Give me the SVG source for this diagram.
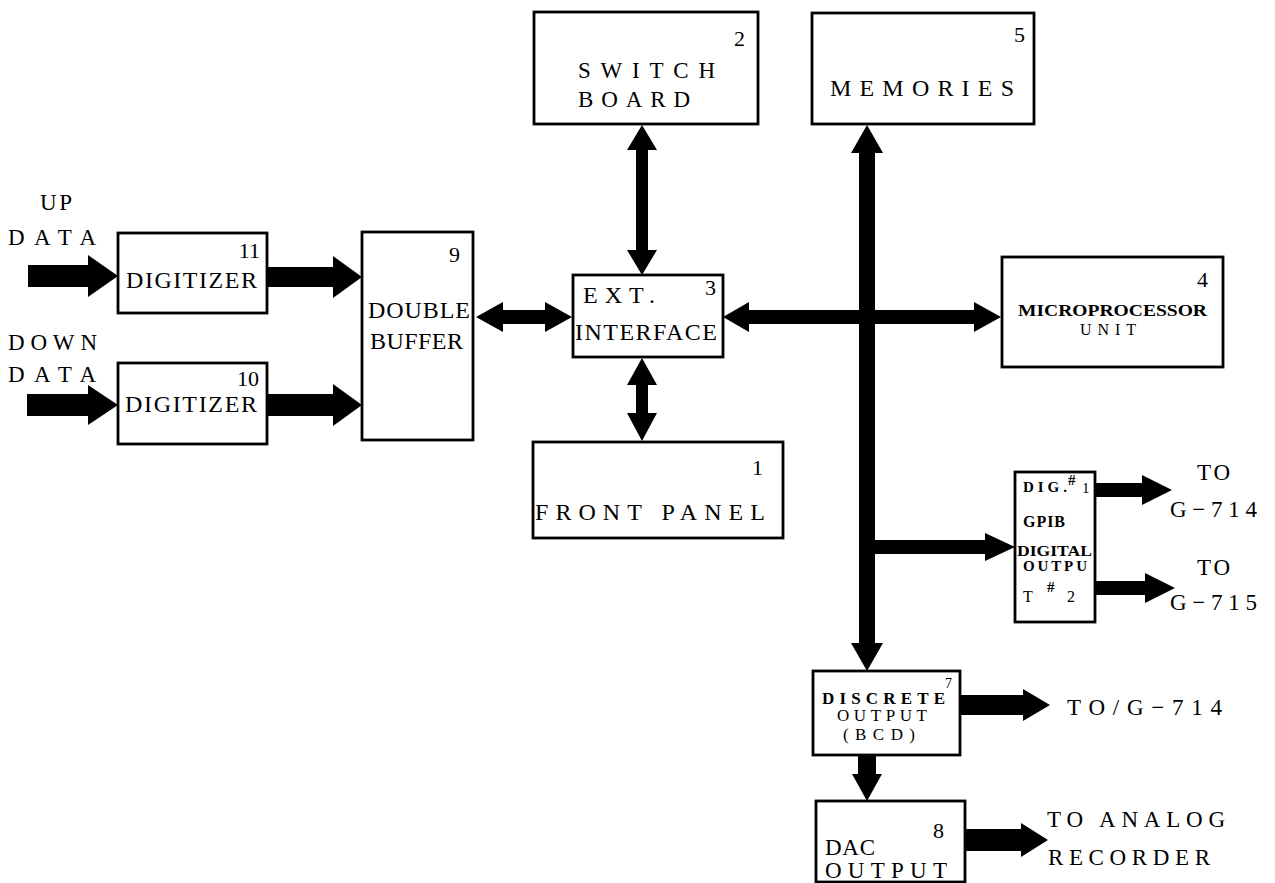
<svg xmlns="http://www.w3.org/2000/svg" width="1275" height="883" viewBox="0 0 1275 883">
<style>
.box{fill:#fff;stroke:#000;stroke-width:2.8}
text{font-family:"Liberation Serif","Times New Roman",serif;fill:#000}
.t{font-size:24px}
.m{font-size:23px}
.s{font-size:17px}
.b{font-weight:bold}
.n{font-size:22px;text-anchor:end}
.ar{fill:#000}
</style>
<rect width="1275" height="883" fill="#fff"/>
<g id="connectors" class="ar">
<polygon points="28,265 88,265 88,255 118,276 88,297 88,287 28,287"/>
<polygon points="27,394 88,394 88,385 118,405 88,425 88,416 27,416"/>
<polygon points="267,267 333,267 333,256 362,277 333,298 333,287 267,287"/>
<polygon points="267,394 333,394 333,384 362,405 333,426 333,416 267,416"/>
<polygon points="476,317 503,302 503,310 545,310 545,302 572,317 545,332 545,324 503,324 503,332"/>
<polygon points="723,317 749,302 749,310 974,310 974,302 1001,317 974,332 974,324 749,324 749,332"/>
<polygon points="642,125 657,150 648,150 648,250 657,250 642,275 627,250 636,250 636,150 627,150"/>
<polygon points="642,358 657,385 648,385 648,413 657,413 642,441 627,413 636,413 636,385 627,385"/>
<polygon points="867,125 883,153 875,153 875,643 883,643 867,671 851,643 859,643 859,153 851,153"/>
<polygon points="875,540 985,540 985,533 1015,547 985,561 985,554 875,554"/>
<polygon points="1095,483 1142,483 1142,475 1172,490 1142,505 1142,497 1095,497"/>
<polygon points="1095,581 1145,581 1145,573 1175,588 1145,603 1145,595 1095,595"/>
<polygon points="960,695 1023,695 1023,689 1050,705 1023,721 1023,715 960,715"/>
<polygon points="858,755 876,755 876,774 882,774 867,801 852,774 858,774"/>
<polygon points="965,829 1021,829 1021,823 1048,840 1021,857 1021,851 965,851"/>
</g>
<g id="labels">
<text class="m" x="40" y="210" textLength="32" lengthAdjust="spacing">UP</text>
<text class="m" x="8" y="245" textLength="88" lengthAdjust="spacing">DATA</text>
<text class="m" x="8" y="350" textLength="89" lengthAdjust="spacing">DOWN</text>
<text class="m" x="8" y="382" textLength="88" lengthAdjust="spacing">DATA</text>
<text class="m" x="1197" y="480" textLength="33" lengthAdjust="spacing">TO</text>
<text class="m" x="1170" y="517" textLength="87" lengthAdjust="spacing">G−714</text>
<text class="m" x="1197" y="575" textLength="33" lengthAdjust="spacing">TO</text>
<text class="m" x="1170" y="610" textLength="87" lengthAdjust="spacing">G−715</text>
<text class="m" x="1067" y="715" textLength="155" lengthAdjust="spacing">TO/G−714</text>
<text class="m" x="1047" y="827" textLength="178" lengthAdjust="spacing">TO ANALOG</text>
<text class="m" x="1048" y="865" textLength="162" lengthAdjust="spacing">RECORDER</text>
</g>
<g id="n2"><rect class="box" x="534" y="12" width="224" height="112"/><text class="n" x="745" y="46">2</text>
<text class="m" x="578" y="78" textLength="137" lengthAdjust="spacing">SWITCH</text><text class="m" x="578" y="107" textLength="112" lengthAdjust="spacing">BOARD</text></g>
<g id="n5"><rect class="box" x="812" y="13" width="222" height="111"/><text class="n" x="1025" y="42">5</text>
<text class="t" x="830" y="96" textLength="184" lengthAdjust="spacing">MEMORIES</text></g>
<g id="n11"><rect class="box" x="118" y="233" width="149" height="80"/><text class="n" x="260" y="258">11</text>
<text class="t" x="126" y="288" textLength="131" lengthAdjust="spacing">DIGITIZER</text></g>
<g id="n10"><rect class="box" x="118" y="363" width="149" height="81"/><text class="n" x="259" y="386">10</text>
<text class="t" x="125" y="412" textLength="132" lengthAdjust="spacing">DIGITIZER</text></g>
<g id="n9"><rect class="box" x="362" y="232" width="111" height="208"/><text class="n" x="460" y="262">9</text>
<text class="t" x="368" y="318" textLength="102" lengthAdjust="spacing">DOUBLE</text><text class="t" x="370" y="349" textLength="93" lengthAdjust="spacing">BUFFER</text></g>
<g id="n3"><rect class="box" x="573" y="275" width="150" height="82"/><text class="n" x="716" y="295">3</text>
<text class="t" x="583" y="303" textLength="72" lengthAdjust="spacing">EXT.</text><text class="t" x="575" y="340" textLength="142" lengthAdjust="spacing">INTERFACE</text></g>
<g id="n4"><rect class="box" x="1002" y="257" width="221" height="110"/><text class="n" x="1208" y="287">4</text>
<text class="s b" x="1018" y="316" textLength="189" lengthAdjust="spacingAndGlyphs">MICROPROCESSOR</text><text x="1080" y="335" font-size="16" textLength="56" lengthAdjust="spacing">UNIT</text></g>
<g id="n1"><rect class="box" x="533" y="442" width="250" height="96"/><text class="n" x="763" y="475">1</text>
<text class="t" x="535" y="520" textLength="230" lengthAdjust="spacing">FRONT  PANEL</text></g>
<g id="n6"><rect class="box" x="1015" y="472" width="80" height="150"/>
<text class="b" x="1023" y="492" font-size="15" textLength="44" lengthAdjust="spacing">DIG.</text><text class="b" x="1068" y="485" font-size="15">#</text><text x="1082" y="493" font-size="15">1</text>
<text class="b" x="1023" y="527" font-size="16" textLength="42" lengthAdjust="spacing">GPIB</text>
<text class="b" x="1017" y="556" font-size="15" textLength="75" lengthAdjust="spacingAndGlyphs">DIGITAL</text>
<text class="b" x="1023" y="571" font-size="15" textLength="64" lengthAdjust="spacing">OUTPU</text>
<text x="1023" y="602" font-size="16">T</text><text class="b" x="1047" y="592" font-size="15">#</text><text x="1067" y="602" font-size="16">2</text></g>
<g id="n7"><rect class="box" x="813" y="671" width="147" height="84"/><text x="945" y="688" font-size="14">7</text>
<text class="s b" x="822" y="704" textLength="123" lengthAdjust="spacing">DISCRETE</text>
<text class="s" x="837" y="721" textLength="90" lengthAdjust="spacing">OUTPUT</text>
<text class="s" x="843" y="740" textLength="72" lengthAdjust="spacing">(BCD)</text></g>
<g id="n8"><rect class="box" x="816" y="801" width="149" height="81"/><text class="n" x="944" y="838">8</text>
<text class="m" x="825" y="855" textLength="50" lengthAdjust="spacing">DAC</text><text class="m" x="825" y="878" textLength="122" lengthAdjust="spacing">OUTPUT</text></g>
</svg>
